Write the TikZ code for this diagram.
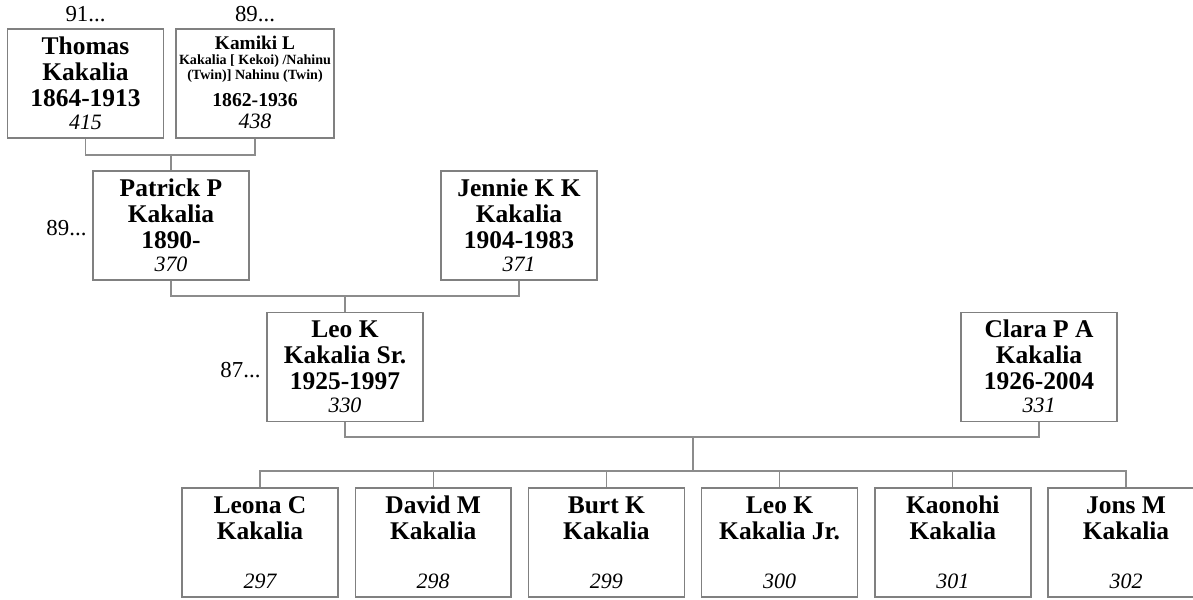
\documentclass[tikz,border=0pt]{standalone}
\usepackage{fontspec}
\setmainfont{Liberation Serif}
\usepackage{xcolor}
\usepackage{tikz}
\usetikzlibrary{positioning}
\definecolor{boxgray}{RGB}{128,128,128}
\definecolor{linkgray}{RGB}{140,140,140}

% card text: two name lines, dates, record number
\newcommand{\card}[4]{%
  \parbox[c][2.18cm][t]{3.1cm}{\centering\lineskiplimit=-10pt
    {\fontsize{14.5}{14.8}\selectfont\bfseries\rule{0pt}{0.5cm}#1\\#2\\\mbox{}#3\par}%
    {\fontsize{12.5}{13.1}\selectfont\itshape #4\par}}}

\begin{document}
\begin{tikzpicture}[
  x=0.02cm, y=-0.02cm,
  person/.style={draw=boxgray, line width=0.8pt, minimum width=3.12cm,
                 minimum height=2.16cm, inner sep=0pt},
  link/.style={draw=linkgray, line width=0.7pt},
  more/.style={font=\fontsize{13}{14}\selectfont, inner sep=0pt},
]
\useasboundingbox (0,0) rectangle (1193,599);

%% ── Grandparents ──────────────────────────────────────────────────────────
\node[person] (thomas) at (85.5, 83.5) {\card{Thomas}{Kakalia}{1864-1913}{415}};
\node[person] (kamiki) at (255, 83.5)
  {\parbox[c][2.18cm][t]{3.16cm}{\centering\bfseries\lineskiplimit=-10pt
    {\fontsize{11}{12}\selectfont\rule{0pt}{0.4cm}Kamiki L\par}%
    {\fontsize{8}{8.8}\selectfont Kakalia [ Kekoi) /Nahinu\\(Twin)] Nahinu (Twin)\par}%
    {\fontsize{11.2}{15.4}\selectfont 1862-1936\par}%
    {\fontsize{12.5}{12.5}\selectfont\mdseries\itshape 438\par}}};
\node[more, above=0.12cm of thomas] (thomasup) {91...};
\node[more, above=0.12cm of kamiki] (kamikiup) {89...};

%% ── Parents ───────────────────────────────────────────────────────────────
\node[person] (patrick) at (171, 225.5) {\card{Patrick P}{Kakalia}{1890-}{370}};
\node[person] (jennie) at (519, 225.5) {\card{Jennie K K}{Kakalia}{1904-1983}{371}};
\node[more, anchor=base east] (patrickup)
  at ([xshift=-0.11cm, yshift=-0.2cm]patrick.west) {89...};

%% ── Couple ────────────────────────────────────────────────────────────────
\node[person] (leo) at (345, 367) {\card{Leo K}{Kakalia Sr.}{1925-1997}{330}};
\node[person] (clara) at (1039, 367) {\card{Clara P A}{Kakalia}{1926-2004}{331}};
\node[more, anchor=base east] (leoup)
  at ([xshift=-0.11cm, yshift=-0.2cm]leo.west) {87...};

%% ── Children ──────────────────────────────────────────────────────────────
\foreach \i/\first/\sur/\pid in {
  1/{Leona C}/Kakalia/297,
  2/{David M}/Kakalia/298,
  3/{Burt K}/Kakalia/299,
  4/{Leo K}/{Kakalia Jr.}/300,
  5/Kaonohi/Kakalia/301,
  6/{Jons M}/Kakalia/302} {
  \pgfmathsetmacro{\x}{260 + (\i-1)*173.2}
  \node[person] (kid\i) at (\x, 542.5) {\card{\first}{\sur}{}{\pid}};
}

%% ── Connectors ────────────────────────────────────────────────────────────
\coordinate (bar1) at (patrick.north |- 0,155);
\coordinate (bar2) at (leo.north |- 0,296);
\coordinate (bar3) at (693,437);
\coordinate (bar4) at (693,471);

\draw[link] (thomas.south) |- (bar1) -| (kamiki.south);
\draw[link] (bar1) -- (patrick.north);
\draw[link] (patrick.south) |- (bar2) -| (jennie.south);
\draw[link] (bar2) -- (leo.north);
\draw[link] (leo.south) |- (bar3) -| (clara.south);
\draw[link] (bar3) -- (bar4);
\draw[link] (kid1.north) |- (bar4) -| (kid6.north);
\foreach \i in {2,...,5} {
  \draw[link] (kid\i.north) -- (kid\i.north |- bar4);
}

\end{tikzpicture}
\end{document}
